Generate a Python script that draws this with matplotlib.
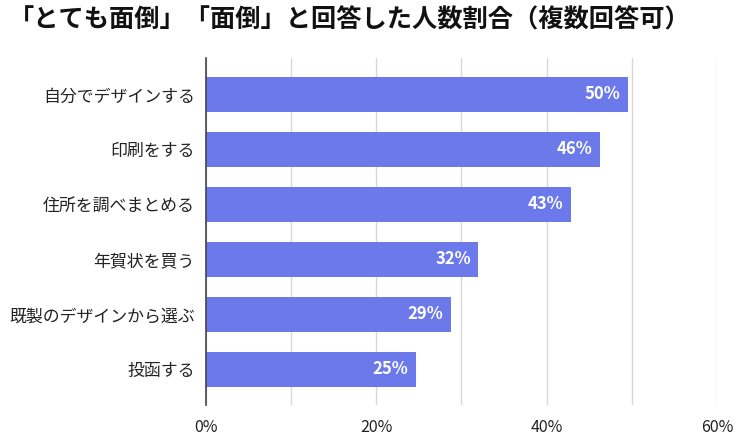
import matplotlib.pyplot as plt
from matplotlib.ticker import MultipleLocator

plt.rcParams['font.family'] = ['Noto Sans CJK JP', 'DejaVu Sans']

categories = ["自分でデザインする", "印刷をする", "住所を調べまとめる",
              "年賀状を買う", "既製のデザインから選ぶ", "投函する"]
values = [49.6, 46.3, 42.9, 32.0, 28.8, 24.7]
labels = ["50%", "46%", "43%", "32%", "29%", "25%"]
xticks = [0, 20, 40, 60]
title = "「とても面倒」「面倒」と回答した人数割合（複数回答可）"

BAR = "#6b79eb"

fig = plt.figure(figsize=(7.35, 4.4), dpi=100)
ax = fig.add_axes([0.280, 0.0795, 0.6955, 0.7885])

y = list(range(len(categories)))
ax.barh(y, values, height=0.636, color=BAR, zorder=3)
for yi, v, lab in zip(y, values, labels):
    ax.text(v - 0.9, yi, lab, ha="right", va="center", color="white",
            fontsize=12, fontweight="bold", zorder=4)

ax.set_xlim(0, 60)
ax.set_ylim(5.65, -0.66)
ax.set_yticks(y)
ax.set_yticklabels(categories, fontsize=12.2, color="#222222")
ax.set_xticks(xticks)
ax.set_xticklabels([f"{t}%" for t in xticks], fontsize=11.5, color="#222222")
ax.xaxis.set_minor_locator(MultipleLocator(10))
ax.grid(axis="x", which="both", color="#d9d9d9", linewidth=1, zorder=0)
ax.tick_params(axis="both", which="both", length=0)
ax.tick_params(axis="x", pad=10)
ax.tick_params(axis="y", pad=8)
for s in ["top", "right", "bottom"]:
    ax.spines[s].set_visible(False)
ax.spines["left"].set_color("#444444")
ax.spines["left"].set_linewidth(1.2)
ax.spines["left"].set_zorder(5)

fig.text(0.012, 0.955, title, ha="left", va="center", fontsize=18.2,
         fontweight="bold", color="#111111")

fig.savefig("out.png", dpi=100)
